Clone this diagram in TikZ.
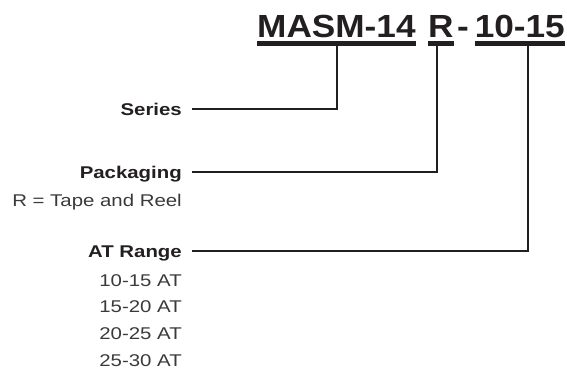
\documentclass[tikz,border=0pt]{standalone}
\usepackage{fontspec}
\setmainfont{Liberation Sans}[FakeStretch=1.2]
\newfontfamily\titlefont{Liberation Sans}[FakeStretch=1.1]
\usepackage{tikz}
\usetikzlibrary{calc}
\definecolor{ink}{HTML}{231F20}
\definecolor{greytext}{HTML}{3A3A3A}
\tikzset{
  code part/.style={inner sep=0pt, anchor=base west, text=ink,
    font=\titlefont\bfseries\fontsize{32}{36}\selectfont},
  code underline/.style={draw=ink, line width=4.5pt},
  field name/.style={inner sep=0pt, anchor=base east, text=ink,
    text height=12pt, text depth=0pt,
    font=\bfseries\fontsize{17}{20}\selectfont},
  field value/.style={inner sep=0pt, anchor=base east, text=greytext,
    text height=12pt, text depth=0pt,
    font=\fontsize{17}{20}\selectfont},
  leader/.style={draw=ink, line width=1.8pt, line join=miter}
}

\begin{document}
\begin{tikzpicture}[x=1pt, y=-1pt]
\useasboundingbox (0,0) rectangle (567,372);

% part number
\node[code part] (masm) at (257,37) {MASM-14};
\node[code part] (pack) at (428,37) {R};
\node[code part] (dash) at (457,37) {-};
\node[code part, anchor=base east] (range) at (565,37) {10-15};

\foreach \p in {masm,pack,range}
  \draw[code underline] ([yshift=-6.5pt]\p.base west) -- ([yshift=-6.5pt]\p.base east);

\coordinate (masm tap) at (337,44);
\coordinate (pack tap) at (437,44);
\coordinate (range tap) at (528,44);

% fields
\node[field name] (series) at (182,115) {Series};
\node[field name] (packaging) at (182,178) {Packaging};
\node[field value] (tape) at (182,206) {R = Tape and Reel};
\node[field name] (atrange) at (182,257) {AT Range};
\foreach \r [count=\i] in {10-15,15-20,20-25,25-30}
  \node[field value] (at\i) at (182,259.5+26.7*\i) {\r\ AT};

% leaders
\draw[leader] ([xshift=10pt]series.east) -| (masm tap);
\draw[leader] ([xshift=10pt]packaging.east) -| (pack tap);
\draw[leader] ([xshift=10pt]atrange.east) -| (range tap);
\end{tikzpicture}
\end{document}
